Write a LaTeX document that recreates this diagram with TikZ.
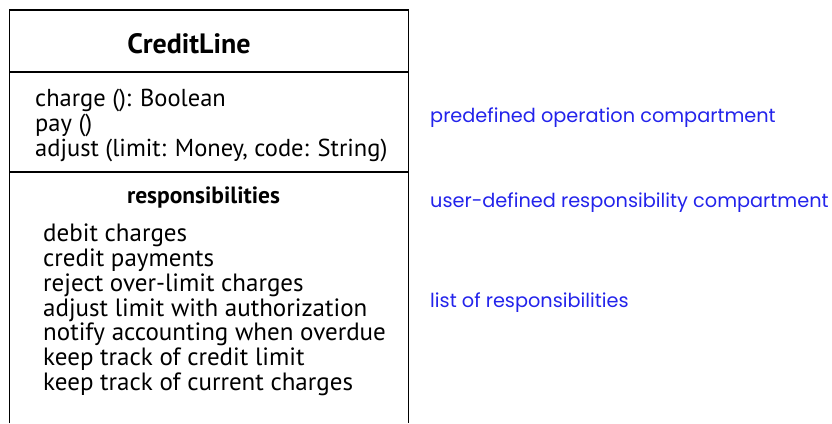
\documentclass[tikz,border=0pt]{standalone}
\usepackage{fontspec}
\setmainfont{PT Sans}
\newfontfamily\labelfont{Poppins}
\definecolor{labelblue}{RGB}{35,35,235}
\begin{document}
\begin{tikzpicture}[x=1pt,y=-1pt,
  boxline/.style={line width=1.5pt,black},
  item/.style={inner sep=0pt,anchor=base west,font=\fontsize{24.5}{25}\selectfont},
  ritem/.style={item,font=\fontsize{25}{25}\selectfont},
  head/.style={inner sep=0pt,anchor=base,font=\fontsize{28}{32}\selectfont\bfseries},
  subhead/.style={inner sep=0pt,anchor=base,font=\fontsize{23.5}{27}\selectfont\bfseries},
  note/.style={inner sep=0pt,anchor=base west,text=labelblue,font=\labelfont\fontsize{19.3}{23}\selectfont}]
\useasboundingbox (0,0) rectangle (832,423);
% box
\coordinate (bl) at (9.5,423);
\coordinate (tl) at (9.5,10);
\coordinate (tr) at (408.5,10);
\coordinate (br) at (408.5,423);
\draw[boxline] (bl) -- (tl) -- (tr) -- (br);
\coordinate (s1l) at (9.5,72);
\coordinate (s1r) at (408.5,72);
\coordinate (s2l) at (9.5,172);
\coordinate (s2r) at (408.5,172);
\draw[boxline] (s1l) -- (s1r);
\draw[boxline] (s2l) -- (s2r);
% title
\node[head] (title) at (189,53) {CreditLine};
% operations
\node[item] (op1) at (35,106) {charge (): Boolean};
\node[item] (op2) at (35,131) {pay ()};
\node[item] (op3) at (35,156) {adjust (limit: Money, code: String)};
% responsibilities
\node[subhead] (rh) at (203.5,203) {responsibilities};
\node[ritem] (r1) at (43,241) {debit charges};
\node[ritem] (r2) at (43,266) {credit payments};
\node[ritem] (r3) at (43,291) {reject over-limit charges};
\node[ritem] (r4) at (43,316) {adjust limit with authorization};
\node[ritem] (r5) at (43,340) {notify accounting when overdue};
\node[ritem] (r6) at (43,365) {keep track of credit limit};
\node[ritem] (r7) at (43,390) {keep track of current charges};
% notes
\node[note] (n1) at (430,122) {predefined operation compartment};
\node[note] (n2) at (430,207) {user-defined responsibility compartment};
\node[note] (n3) at (430,307) {list of responsibilities};
\end{tikzpicture}
\end{document}
